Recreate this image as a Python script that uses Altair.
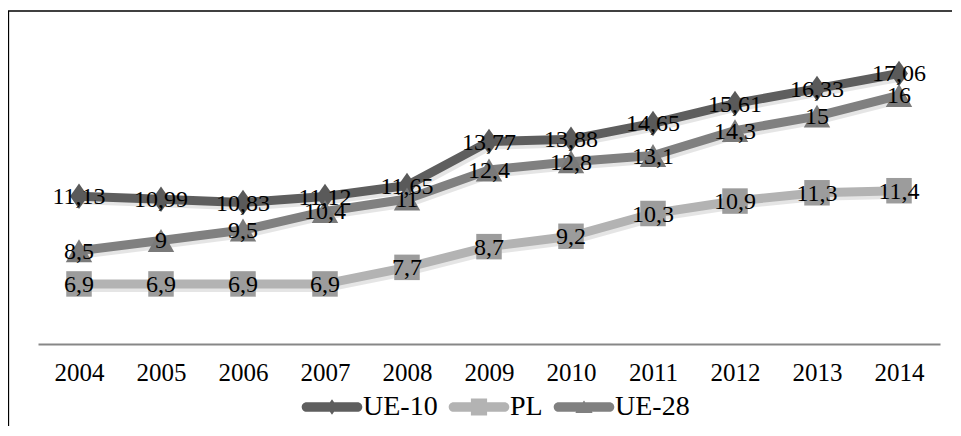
import altair as alt
import pandas as pd

years = ["2004", "2005", "2006", "2007", "2008", "2009", "2010", "2011", "2012", "2013", "2014"]
ue10 = [11.13, 10.99, 10.83, 11.12, 11.65, 13.77, 13.88, 14.65, 15.61, 16.33, 17.06]
pl = [6.9, 6.9, 6.9, 6.9, 7.7, 8.7, 9.2, 10.3, 10.9, 11.3, 11.4]
ue28 = [8.5, 9, 9.5, 10.4, 11, 12.4, 12.8, 13.1, 14.3, 15, 16]
series_names = ["UE-10", "PL", "UE-28"]

line_colors = ["#5e5e5e", "#b3b3b3", "#808080"]
marker_colors = ["#5a5a5a", "#9c9c9c", "#7a7a7a"]
FONT = "Liberation Serif"

rows = []
for name, vals in zip(series_names, [ue10, pl, ue28]):
    for yr, v in zip(years, vals):
        rows.append({"year": yr, "series": name, "value": v,
                     "label": f"{v:g}".replace(".", ",")})
df = pd.DataFrame(rows)

x_enc = alt.X("year:O", scale=alt.Scale(type="point", padding=0.5),
              axis=alt.Axis(title=None, labelAngle=0, ticks=False, grid=False,
                            domainColor="#878787", domainWidth=2,
                            labelFont=FONT, labelFontSize=25, labelColor="black",
                            labelPadding=16))
y_enc = alt.Y("value:Q", scale=alt.Scale(domain=[4, 18], zero=False, nice=False), axis=None)

bar = "M-0.85,-0.16 L0.85,-0.16 A0.16,0.16 0 0 1 0.85,0.16 L-0.85,0.16 A0.16,0.16 0 0 1 -0.85,-0.16 Z "
legend_paths = [
    bar + "M0,-0.26 L0.18,0 L0,0.26 L-0.18,0 Z",
    bar + "M-0.27,-0.28 L0.27,-0.28 L0.27,0.28 L-0.27,0.28 Z",
    bar + "M0,-0.22 L0.29,0.2 L-0.29,0.2 Z",
]

leg = alt.Legend(title=None, orient="none", direction="horizontal", legendX=264, legendY=323,
                 symbolSize=3600, symbolStrokeWidth=0, symbolOpacity=1,
                 labelFont=FONT, labelFontSize=28,
                 labelColor="black", labelOffset=1, columnPadding=10, padding=0)

base = alt.Chart(df)

frame_data = pd.DataFrame({"d": [0]})
frame_left = alt.Chart(frame_data).mark_rule(color="black", strokeWidth=1.3).encode(
    x=alt.value(-29.5), y=alt.value(-43), y2=alt.value(380))
frame_top = alt.Chart(frame_data).mark_rule(color="black", strokeWidth=1.3).encode(
    x=alt.value(-30), x2=alt.value(920), y=alt.value(-43))

shadow = base.mark_line(strokeWidth=10, strokeCap="round", strokeJoin="round",
                        color="#000000", opacity=0.10, xOffset=2, yOffset=3).encode(
    x=x_enc, y=y_enc, detail="series:N")

line_layers = [
    base.transform_filter(alt.datum.series == name).mark_line(
        strokeWidth=9, strokeCap="round", strokeJoin="round", color=col).encode(x=x_enc, y=y_enc)
    for name, col in zip(series_names, line_colors)
]

diamond_path = "M0,-1 L0.7,0 L0,1 L-0.7,0 Z"
m_ue10 = base.transform_filter(alt.datum.series == "UE-10").mark_point(
    shape=diamond_path, size=650, filled=True, opacity=1, color=marker_colors[0]).encode(x=x_enc, y=y_enc)
m_pl = base.transform_filter(alt.datum.series == "PL").mark_point(
    shape="square", size=650, filled=True, opacity=1, color=marker_colors[1]).encode(x=x_enc, y=y_enc)
m_ue28 = base.transform_filter(alt.datum.series == "UE-28").mark_point(
    shape="triangle-up", size=700, filled=True, opacity=1, color=marker_colors[2]).encode(x=x_enc, y=y_enc)

labels = base.mark_text(font=FONT, fontSize=24, color="black", baseline="middle", dy=1).encode(
    x=x_enc, y=y_enc, text="label:N")

legend_layer = base.mark_point(filled=True, opacity=0).encode(
    x=x_enc, y=y_enc,
    color=alt.Color("series:N", scale=alt.Scale(domain=series_names, range=line_colors), legend=leg),
    shape=alt.Shape("series:N", scale=alt.Scale(domain=series_names, range=legend_paths), legend=leg),
)

chart = alt.layer(frame_left, frame_top, shadow, *line_layers, m_ue10, m_pl, m_ue28, labels, legend_layer).properties(
    width=902, height=290,
    autosize=alt.AutoSizeParams(type="none"),
    padding={"left": 30, "top": 46, "right": 12, "bottom": 82},
    background="white",
).configure_view(stroke=None)

chart.save("out.html", embed_options={"renderer": "svg", "actions": False})
